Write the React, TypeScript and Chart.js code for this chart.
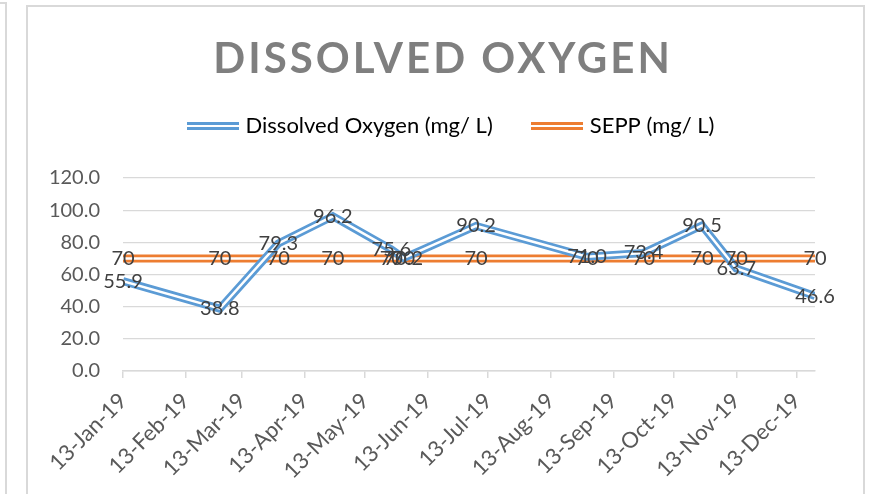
import React, { useEffect, useRef } from 'react';
import { Chart, registerables } from 'chart.js';

Chart.register(...registerables);

// ---- data ----
const SAMPLE_DATES = [
  '2019-01-13', '2019-03-02', '2019-03-31', '2019-04-27', '2019-05-26', '2019-06-01',
  '2019-07-07', '2019-08-31', '2019-09-28', '2019-10-27', '2019-11-13', '2019-12-22',
];
const DISSOLVED_OXYGEN = [55.9, 38.8, 79.3, 96.2, 75.6, 70.2, 90.2, 71.0, 73.4, 90.5, 63.7, 46.6];
const SEPP = [70, 70, 70, 70, 70, 70, 70, 70, 70, 70, 70, 70];
const TICK_DATES = [
  '2019-01-13', '2019-02-13', '2019-03-13', '2019-04-13', '2019-05-13', '2019-06-13',
  '2019-07-13', '2019-08-13', '2019-09-13', '2019-10-13', '2019-11-13', '2019-12-13',
];
const Y_TICKS = [0, 20, 40, 60, 80, 100, 120];
const MONTHS = ['Jan', 'Feb', 'Mar', 'Apr', 'May', 'Jun', 'Jul', 'Aug', 'Sep', 'Oct', 'Nov', 'Dec'];
const SERIES_NAMES = ['Dissolved Oxygen (mg/ L)', 'SEPP (mg/ L)'];
const TITLE = 'DISSOLVED OXYGEN';

const BLUE = '#5b9bd5';
const ORANGE = '#ed7d31';
const FONT = 'Lato';

const toDay = (s: string) => {
  const [y, m, d] = s.split('-').map(Number);
  return Date.UTC(y, m - 1, d) / 86400000;
};
const fmtDay = (v: number) => {
  const dt = new Date(Math.round(v) * 86400000);
  return `${dt.getUTCDate()}-${MONTHS[dt.getUTCMonth()]}-${String(dt.getUTCFullYear()).slice(2)}`;
};

function doubleLine(color: string) {
  const c = document.createElement('canvas');
  c.width = 52;
  c.height = 8;
  const g = c.getContext('2d')!;
  g.fillStyle = color;
  g.fillRect(0, 0, 52, 3);
  g.fillRect(0, 5, 52, 3);
  return c;
}

const dataLabelPlugin = {
  id: 'centerLabels',
  afterDatasetsDraw(chart: any) {
    const ctx = chart.ctx;
    ctx.save();
    ctx.font = `20px ${FONT}`;
    ctx.fillStyle = '#404040';
    ctx.textAlign = 'center';
    ctx.textBaseline = 'middle';
    [3, 1].forEach((i) => {
      const ds = chart.data.datasets[i];
      if (!ds || ds.labelDigits === undefined) return;
      const meta = chart.getDatasetMeta(i);
      meta.data.forEach((el: any, j: number) => {
        const v = ds.data[j].y;
        ctx.fillText(v.toFixed(ds.labelDigits), el.x, el.y);
      });
    });
    ctx.restore();
  },
};

// letter-spaced title, and horizontal placement of title / legend blocks
const headerPlugin = {
  id: 'headerPlacement',
  afterLayout(chart: any) {
    const tb = chart.titleBlock;
    if (tb) {
      tb.left = 71;
      if (!tb.__spaced) {
        const orig = tb.draw.bind(tb);
        tb.draw = (...args: any[]) => {
          const ctx = chart.ctx;
          ctx.save();
          (ctx as any).letterSpacing = '3px';
          orig(...args);
          ctx.restore();
        };
        tb.__spaced = true;
      }
    }
    if (chart.legend) {
      chart.legend.left = 90;
    }
  },
};

export default function App() {
  const ref = useRef<HTMLCanvasElement | null>(null);

  useEffect(() => {
    if (!ref.current) return;
    const xs = SAMPLE_DATES.map(toDay);
    const doPts = xs.map((x, i) => ({ x, y: DISSOLVED_OXYGEN[i] }));
    const seppPts = xs.map((x, i) => ({ x, y: SEPP[i] }));
    const symbols = [doubleLine(BLUE), doubleLine(ORANGE)];
    const common = { pointRadius: 0, tension: 0, xAxisID: 'x', yAxisID: 'y' };

    const chart = new Chart(ref.current, {
      type: 'line',
      data: {
        datasets: [
          { ...common, label: SERIES_NAMES[0] + ' inner', data: doPts, borderColor: '#ffffff', borderWidth: 2.5 } as any,
          { ...common, label: SERIES_NAMES[0], data: doPts, borderColor: BLUE, borderWidth: 8, labelDigits: 1 } as any,
          { ...common, label: SERIES_NAMES[1] + ' inner', data: seppPts, borderColor: '#ffffff', borderWidth: 2.5 } as any,
          { ...common, label: SERIES_NAMES[1], data: seppPts, borderColor: ORANGE, borderWidth: 8, labelDigits: 0 } as any,
        ],
      },
      options: {
        responsive: false,
        animation: false,
        devicePixelRatio: 1,
        layout: { padding: { top: 0, left: 40, right: 58, bottom: 0 } },
        plugins: {
          title: {
            display: true,
            text: TITLE,
            color: '#7f7f7f',
            font: { family: FONT, size: 42, weight: 'bold', lineHeight: 28 / 42 },
            padding: { top: 45, bottom: 0 },
          },
          legend: {
            display: true,
            position: 'top',
            labels: {
              usePointStyle: true,
              pointStyleWidth: 44,
              padding: 42,
              color: '#595959',
              font: { family: FONT, size: 22 },
              generateLabels: () =>
                SERIES_NAMES.map((t, i) => ({
                  text: t,
                  fillStyle: i === 0 ? BLUE : ORANGE,
                  strokeStyle: i === 0 ? BLUE : ORANGE,
                  lineWidth: 0,
                  pointStyle: symbols[i],
                  hidden: false,
                  datasetIndex: i === 0 ? 1 : 3,
                })) as any,
            },
          },
          tooltip: { enabled: false },
        },
        scales: {
          x: {
            type: 'linear',
            position: 'bottom',
            min: xs[0],
            max: xs[xs.length - 1],
            afterBuildTicks: (s: any) => {
              s.ticks = TICK_DATES.map((d) => ({ value: toDay(d) }));
            },
            afterFit: (s: any) => {
              s.height = 123;
            },
            ticks: {
              callback: (v: any) => fmtDay(Number(v)),
              autoSkip: false,
              maxRotation: 45,
              minRotation: 45,
              color: '#595959',
              font: { family: FONT, size: 22 },
              padding: 10,
            },
            grid: { drawOnChartArea: false, drawTicks: true, tickLength: 7, color: '#d9d9d9', lineWidth: 1.5 },
            border: { display: true, color: '#d9d9d9', width: 1.5 },
          },
          y: {
            min: 0,
            max: 120,
            afterBuildTicks: (s: any) => {
              s.ticks = Y_TICKS.map((v) => ({ value: v }));
            },
            afterFit: (s: any) => {
              s.width = 83;
            },
            ticks: {
              callback: (v: any) => Number(v).toFixed(1),
              padding: 23,
              color: '#595959',
              font: { family: FONT, size: 20 },
            },
            grid: { color: '#d9d9d9', lineWidth: 1.3, drawTicks: false },
            border: { display: false },
          },
          spacer: {
            type: 'linear',
            position: 'top',
            display: true,
            min: 0,
            max: 1,
            ticks: { display: false },
            grid: { display: false, drawTicks: false },
            border: { display: false },
            afterFit: (s: any) => {
              s.height = 31;
            },
          },
        },
      } as any,
      plugins: [dataLabelPlugin, headerPlugin],
    });
    return () => chart.destroy();
  }, []);

  return (
    <div style={{ position: 'fixed', left: 0, top: 0, width: 873, height: 494, background: '#ffffff', overflow: 'hidden' }}>
      <div style={{ position: 'absolute', left: -20, top: 2, width: 27, height: 600, border: '2px solid #d9d9d9', boxSizing: 'border-box' }} />
      <div style={{ position: 'absolute', left: 26, top: 5, width: 839, height: 600, border: '2px solid #d9d9d9', boxSizing: 'border-box' }} />
      <canvas ref={ref} width={873} height={494} style={{ position: 'absolute', left: 0, top: 0 }} />
    </div>
  );
}
